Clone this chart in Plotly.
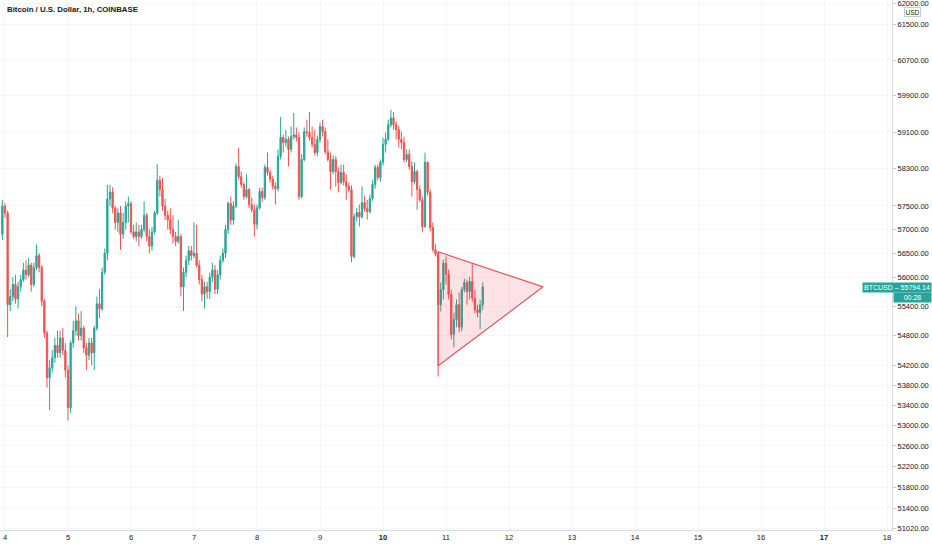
import math
import pandas as pd
import plotly.graph_objects as go

##___Data (BTCUSD hourly candles, Coinbase)___
opens = [
    56900, 57500, 57350, 55430, 55600, 55850, 55550, 55800, 55950, 56150,
    56050, 56250, 55850, 56200, 56450, 56200, 55500, 54850, 53950, 54150,
    54350, 54600, 54450, 54750, 54500, 54100, 53350, 54650, 54900, 55100,
    54800, 54950, 54550, 54400, 54650, 54450, 54950, 55450, 55350, 56100,
    56500, 57650, 57800, 57450, 57150, 57350, 56900, 57150, 57500, 57550,
    56950, 56850, 56950, 56850, 57000, 57300, 56850, 56650, 56950, 57350,
    58050, 57850, 57500, 57300, 57200, 57000, 56850, 56750, 56850, 55800,
    56100, 56350, 56550, 56450, 56500, 56250, 55950, 55650, 55800, 55700,
    56000, 56150, 55750, 56050, 56350, 56500, 57000, 57550, 57200, 57500,
    58350, 58130, 57960, 57700, 57850, 57530, 57420, 57110, 57460, 57810,
    57680, 58330, 58220, 58070, 57920, 57870, 58570, 58980, 58870, 58940,
    58720, 59000, 59040, 58980, 57700, 58500, 59110, 59090, 58980, 58830,
    58650, 58940, 59220, 59110, 58670, 58500, 58240, 58500, 58240, 58000,
    58220, 58020, 57920, 57850, 56430, 57270, 57360, 57270, 57570, 57440,
    57380, 57660, 57960, 58330, 58110, 58440, 58830, 58940, 59260, 59410,
    59260, 59150, 58940, 58870, 58500, 58610, 58350, 58020, 58240, 57850,
    57630, 57060, 58440, 57790, 57040, 56580, 56480, 55430, 55740, 56290,
    56060, 55640, 54820, 55130, 55430, 54970, 55740, 55890, 55700, 55910,
    55570, 55330, 55270, 55430,
]
highs = [
    57630, 57560, 57400, 55750, 56000, 56050, 55900, 56050, 56300, 56350,
    56400, 56300, 56300, 56680, 56500, 56250, 55550, 54900, 54300, 54500,
    54750, 54900, 54900, 54950, 54650, 54200, 54700, 55100, 55400, 55250,
    55300, 55000, 54650, 54750, 54750, 55000, 55600, 55750, 56200, 56600,
    57950, 57950, 57900, 57500, 57450, 57500, 57350, 57600, 57700, 57600,
    57100, 57150, 57100, 57100, 57600, 57350, 57000, 57050, 57400, 58400,
    58150, 58100, 57650, 57400, 57450, 57300, 56950, 57200, 56900, 56200,
    56450, 56650, 56650, 57150, 57100, 56350, 56050, 55900, 55900, 56100,
    56300, 56250, 56150, 56450, 56600, 57100, 57600, 57700, 57600, 58420,
    58760, 58240, 58000, 58180, 57890, 57680, 57530, 57530, 57890, 57890,
    58390, 58650, 58280, 58150, 58000, 58720, 59430, 59040, 59150, 59000,
    59220, 59520, 59200, 59090, 58610, 59200, 59370, 59540, 59220, 59150,
    59020, 59300, 59370, 59200, 58940, 58650, 58590, 58570, 58330, 58390,
    58390, 58180, 58000, 57940, 57340, 57460, 57530, 57920, 57720, 57630,
    57740, 58050, 58390, 58390, 58500, 58980, 59090, 59370, 59590, 59540,
    59330, 59240, 59110, 59000, 58720, 58720, 58460, 58440, 58280, 57940,
    57700, 58650, 58460, 57850, 57150, 56690, 56540, 55890, 56370, 56430,
    56160, 55740, 55270, 55540, 55680, 55800, 55970, 55950, 56010, 56270,
    55740, 55430, 55530, 55890,
]
lows = [
    56780, 57250, 54770, 55300, 55500, 55450, 55350, 55700, 55900, 55950,
    56000, 55700, 55800, 56150, 56100, 55400, 54750, 53750, 53300, 54050,
    54250, 54350, 54350, 54400, 53950, 53100, 53250, 54550, 54800, 54700,
    54700, 54450, 54100, 54300, 54200, 54100, 54900, 55150, 55300, 56050,
    56350, 57500, 57350, 57000, 56950, 56570, 56800, 57000, 57150, 56900,
    56800, 56750, 56650, 56800, 56950, 56750, 56500, 56550, 56900, 57300,
    57700, 57400, 57200, 57000, 56900, 56700, 56650, 56700, 55600, 55300,
    56000, 56250, 56350, 56400, 56200, 55850, 55500, 55350, 55550, 55550,
    55900, 55650, 55650, 55950, 56300, 56400, 56900, 57100, 57100, 57450,
    58070, 57890, 57630, 57660, 57460, 57360, 56850, 57000, 57420, 57590,
    57630, 58150, 58000, 57850, 57530, 57810, 58500, 58650, 58780, 58350,
    58650, 58940, 58890, 57630, 57660, 58460, 59000, 58910, 58760, 58590,
    58570, 58870, 59000, 58610, 58460, 57850, 58180, 57910, 57790, 57960,
    57940, 57630, 57790, 56310, 56390, 57170, 57060, 57230, 57380, 57210,
    57340, 57610, 57870, 58050, 58020, 58370, 58650, 58910, 59200, 59150,
    58940, 58760, 58720, 58440, 58440, 58280, 57700, 57960, 57420, 57590,
    56940, 57040, 57720, 56960, 56520, 56430, 53970, 55290, 55540, 55850,
    55540, 54720, 54560, 54970, 54870, 54890, 55680, 55430, 55540, 55490,
    55250, 55170, 54930, 55330,
]
closes = [
    57500, 57350, 55430, 55600, 55850, 55550, 55800, 55950, 56150, 56050,
    56250, 55850, 56200, 56450, 56200, 55500, 54850, 53950, 54150, 54350,
    54600, 54450, 54750, 54500, 54100, 53350, 54650, 54900, 55100, 54800,
    54950, 54550, 54400, 54650, 54450, 54950, 55450, 55350, 56100, 56500,
    57650, 57800, 57450, 57150, 57350, 56900, 57150, 57500, 57550, 56950,
    56850, 56950, 56850, 57000, 57300, 56850, 56650, 56950, 57350, 58050,
    57850, 57500, 57300, 57200, 57000, 56850, 56750, 56850, 55800, 56100,
    56350, 56550, 56450, 56500, 56250, 55950, 55650, 55800, 55700, 56000,
    56150, 55750, 56050, 56350, 56500, 57000, 57550, 57200, 57500, 58350,
    58130, 57960, 57700, 57850, 57530, 57420, 57110, 57460, 57810, 57680,
    58330, 58220, 58070, 57920, 57870, 58570, 58980, 58870, 58940, 58720,
    59000, 59040, 58980, 57700, 58500, 59110, 59090, 58980, 58830, 58650,
    58940, 59220, 59110, 58670, 58500, 58240, 58500, 58240, 58000, 58220,
    58020, 57920, 57850, 56430, 57270, 57360, 57270, 57570, 57440, 57380,
    57660, 57960, 58330, 58110, 58440, 58830, 58940, 59260, 59410, 59260,
    59150, 58940, 58870, 58500, 58610, 58350, 58020, 58240, 57850, 57630,
    57060, 58440, 57790, 57040, 56580, 56480, 55430, 55740, 56290, 56060,
    55640, 54820, 55130, 55430, 54970, 55740, 55890, 55700, 55910, 55570,
    55330, 55270, 55430, 55794.14,
]
times = pd.date_range("2021-05-03 23:00", periods=len(closes), freq="h")

# triangle drawing (two points on the left edge + apex)
tri_times = ["2021-05-10 21:00", "2021-05-10 21:00", "2021-05-12 13:00", "2021-05-10 21:00"]
tri_prices = [56530, 54190, 55800, 56530]

price_ticks = [62000, 61500, 60700, 59900, 59100, 58300, 57500, 57000, 56500, 56000,
               55400, 54800, 54200, 53800, 53400, 53000, 52600, 52200, 51800, 51400, 51020]
day_ticks = pd.date_range("2021-05-04", "2021-05-18", freq="D")
day_labels = ["4", "5", "6", "7", "8", "9", "<b>10</b>", "11", "12", "13",
              "14", "15", "16", "<b>17</b>", "18"]
last_price = closes[-1]

GREEN = "#26a69a"
RED = "#ef5350"
GRID = "#f5f6f9"
FONT = "Liberation Sans"

##___Plot___
fig = go.Figure()

fig.add_trace(go.Scatter(
    x=tri_times, y=tri_prices,
    mode="lines", fill="toself",
    fillcolor="rgba(242,54,69,0.14)",
    line=dict(color="#e0575f", width=1.2),
    hoverinfo="skip", showlegend=False
))

fig.add_trace(go.Candlestick(
    x=times, open=opens, high=highs, low=lows, close=closes,
    increasing=dict(line=dict(color=GREEN, width=1), fillcolor=GREEN),
    decreasing=dict(line=dict(color=RED, width=1), fillcolor=RED),
    whiskerwidth=0, showlegend=False
))

W, H = 932, 550
plot_w, plot_h = 892, 530  # plot area in px

fig.update_layout(
    width=W, height=H,
    margin=dict(l=0, r=W - plot_w, t=0, b=H - plot_h, pad=0),
    paper_bgcolor="white", plot_bgcolor="white",
    font=dict(family=FONT, size=8, color="#131722"),
    xaxis=dict(
        type="date",
        range=["2021-05-03 22:06", "2021-05-18 01:54"],
        tickvals=day_ticks, ticktext=day_labels,
        showgrid=True, gridcolor=GRID, gridwidth=1,
        showline=True, linecolor="#d9dce3", linewidth=1,
        ticks="", tickfont=dict(size=7.5, color="#131722"),
        rangeslider=dict(visible=False), zeroline=False,
    ),
    yaxis=dict(
        type="log", side="right",
        range=[math.log10(50983), math.log10(62069)],
        tickvals=price_ticks, ticktext=[f"{v:.2f}" for v in price_ticks],
        showgrid=True, gridcolor=GRID, gridwidth=1,
        showline=True, linecolor="#d9dce3", linewidth=1,
        ticks="outside", ticklen=3, tickcolor="#c8cbd3",
        ticklabeloverflow="allow",
        tickfont=dict(size=7.5, color="#131722"), zeroline=False,
    ),
    hovermode=False,
)


def px_x(x):
    return x / plot_w


def px_y(y):
    return 1 - y / plot_h


fig.add_annotation(
    text="<b>Bitcoin / U.S. Dollar, 1h, COINBASE</b>",
    xref="paper", yref="paper", x=px_x(5), y=px_y(10),
    xanchor="left", yanchor="middle", showarrow=False,
    font=dict(size=7.8, color="#131722", family=FONT)
)
fig.add_annotation(
    text="USD", xref="paper", yref="paper", x=px_x(912.5), y=px_y(12),
    xanchor="center", yanchor="middle", showarrow=False,
    bordercolor="#c8cbd3", borderwidth=1, borderpad=0.5, bgcolor="white",
    font=dict(size=6.5, color="#131722", family=FONT)
)
fig.add_annotation(
    text=f"BTCUSD – {last_price:.2f}", xref="paper", yref="paper",
    x=px_x(897), y=px_y(287), xanchor="center", yanchor="middle",
    showarrow=False, bgcolor=GREEN, width=68, height=9, borderpad=0,
    font=dict(size=7, color="white", family=FONT)
)
fig.add_annotation(
    text="00:28", xref="paper", yref="paper",
    x=px_x(912.5), y=px_y(297), xanchor="center", yanchor="middle",
    showarrow=False, bgcolor=GREEN, width=37, height=9, borderpad=0,
    font=dict(size=7, color="white", family=FONT)
)

fig.write_html("out.html", config={"displayModeBar": False},
               post_script="document.body.style.margin='0';")
